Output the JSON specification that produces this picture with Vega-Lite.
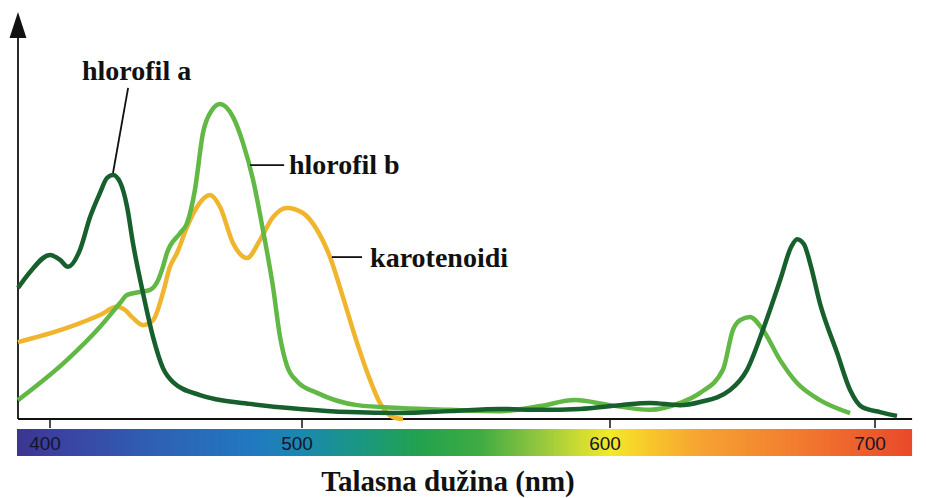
{
  "$schema": "https://vega.github.io/schema/vega-lite/v6.json",
  "width": 926,
  "height": 498,
  "autosize": {"type": "none"},
  "padding": 0,
  "background": "white",
  "config": {"view": {"stroke": null}},
  "datasets": {
    "curves": [
      {"pigment": "karotenoidi", "nm": 387.3, "A": 0.244},
      {"pigment": "karotenoidi", "nm": 406.7, "A": 0.289},
      {"pigment": "karotenoidi", "nm": 419.8, "A": 0.330},
      {"pigment": "karotenoidi", "nm": 426.6, "A": 0.356},
      {"pigment": "karotenoidi", "nm": 429.8, "A": 0.346},
      {"pigment": "karotenoidi", "nm": 432.9, "A": 0.321},
      {"pigment": "karotenoidi", "nm": 436.9, "A": 0.298},
      {"pigment": "karotenoidi", "nm": 440.9, "A": 0.314},
      {"pigment": "karotenoidi", "nm": 444.8, "A": 0.400},
      {"pigment": "karotenoidi", "nm": 447.6, "A": 0.483},
      {"pigment": "karotenoidi", "nm": 450.4, "A": 0.527},
      {"pigment": "karotenoidi", "nm": 454.4, "A": 0.610},
      {"pigment": "karotenoidi", "nm": 458.3, "A": 0.673},
      {"pigment": "karotenoidi", "nm": 463.5, "A": 0.711},
      {"pigment": "karotenoidi", "nm": 467.5, "A": 0.673},
      {"pigment": "karotenoidi", "nm": 472.6, "A": 0.559},
      {"pigment": "karotenoidi", "nm": 478.2, "A": 0.511},
      {"pigment": "karotenoidi", "nm": 483.3, "A": 0.568},
      {"pigment": "karotenoidi", "nm": 488.5, "A": 0.641},
      {"pigment": "karotenoidi", "nm": 494.0, "A": 0.670},
      {"pigment": "karotenoidi", "nm": 500.3, "A": 0.654},
      {"pigment": "karotenoidi", "nm": 504.9, "A": 0.600},
      {"pigment": "karotenoidi", "nm": 509.1, "A": 0.514},
      {"pigment": "karotenoidi", "nm": 513.3, "A": 0.387},
      {"pigment": "karotenoidi", "nm": 517.9, "A": 0.241},
      {"pigment": "karotenoidi", "nm": 522.1, "A": 0.124},
      {"pigment": "karotenoidi", "nm": 525.3, "A": 0.051},
      {"pigment": "karotenoidi", "nm": 529.5, "A": 0.006},
      {"pigment": "karotenoidi", "nm": 532.8, "A": 0.0},

      {"pigment": "hlorofil b", "nm": 387.3, "A": 0.060},
      {"pigment": "hlorofil b", "nm": 406.7, "A": 0.187},
      {"pigment": "hlorofil b", "nm": 419.8, "A": 0.292},
      {"pigment": "hlorofil b", "nm": 427.8, "A": 0.368},
      {"pigment": "hlorofil b", "nm": 430.6, "A": 0.394},
      {"pigment": "hlorofil b", "nm": 435.7, "A": 0.403},
      {"pigment": "hlorofil b", "nm": 439.7, "A": 0.410},
      {"pigment": "hlorofil b", "nm": 442.9, "A": 0.441},
      {"pigment": "hlorofil b", "nm": 444.8, "A": 0.483},
      {"pigment": "hlorofil b", "nm": 446.4, "A": 0.527},
      {"pigment": "hlorofil b", "nm": 451.6, "A": 0.590},
      {"pigment": "hlorofil b", "nm": 454.4, "A": 0.622},
      {"pigment": "hlorofil b", "nm": 457.5, "A": 0.727},
      {"pigment": "hlorofil b", "nm": 460.7, "A": 0.908},
      {"pigment": "hlorofil b", "nm": 464.3, "A": 0.981},
      {"pigment": "hlorofil b", "nm": 467.5, "A": 1.000},
      {"pigment": "hlorofil b", "nm": 472.6, "A": 0.959},
      {"pigment": "hlorofil b", "nm": 476.6, "A": 0.876},
      {"pigment": "hlorofil b", "nm": 480.6, "A": 0.759},
      {"pigment": "hlorofil b", "nm": 484.5, "A": 0.600},
      {"pigment": "hlorofil b", "nm": 488.5, "A": 0.419},
      {"pigment": "hlorofil b", "nm": 491.3, "A": 0.260},
      {"pigment": "hlorofil b", "nm": 494.0, "A": 0.170},
      {"pigment": "hlorofil b", "nm": 498.0, "A": 0.120},
      {"pigment": "hlorofil b", "nm": 504.9, "A": 0.083},
      {"pigment": "hlorofil b", "nm": 517.9, "A": 0.044},
      {"pigment": "hlorofil b", "nm": 531.8, "A": 0.035},
      {"pigment": "hlorofil b", "nm": 548.1, "A": 0.029},
      {"pigment": "hlorofil b", "nm": 564.3, "A": 0.025},
      {"pigment": "hlorofil b", "nm": 577.3, "A": 0.041},
      {"pigment": "hlorofil b", "nm": 588.6, "A": 0.060},
      {"pigment": "hlorofil b", "nm": 600.0, "A": 0.044},
      {"pigment": "hlorofil b", "nm": 615.1, "A": 0.029},
      {"pigment": "hlorofil b", "nm": 626.4, "A": 0.051},
      {"pigment": "hlorofil b", "nm": 634.0, "A": 0.083},
      {"pigment": "hlorofil b", "nm": 642.6, "A": 0.156},
      {"pigment": "hlorofil b", "nm": 646.4, "A": 0.283},
      {"pigment": "hlorofil b", "nm": 649.1, "A": 0.314},
      {"pigment": "hlorofil b", "nm": 652.8, "A": 0.324},
      {"pigment": "hlorofil b", "nm": 657.7, "A": 0.283},
      {"pigment": "hlorofil b", "nm": 664.2, "A": 0.187},
      {"pigment": "hlorofil b", "nm": 670.6, "A": 0.114},
      {"pigment": "hlorofil b", "nm": 679.2, "A": 0.060},
      {"pigment": "hlorofil b", "nm": 690.6, "A": 0.019},

      {"pigment": "hlorofil a", "nm": 387.3, "A": 0.416},
      {"pigment": "hlorofil a", "nm": 392.1, "A": 0.467},
      {"pigment": "hlorofil a", "nm": 400.0, "A": 0.521},
      {"pigment": "hlorofil a", "nm": 404.0, "A": 0.505},
      {"pigment": "hlorofil a", "nm": 407.1, "A": 0.483},
      {"pigment": "hlorofil a", "nm": 411.9, "A": 0.537},
      {"pigment": "hlorofil a", "nm": 415.9, "A": 0.641},
      {"pigment": "hlorofil a", "nm": 419.8, "A": 0.717},
      {"pigment": "hlorofil a", "nm": 422.6, "A": 0.765},
      {"pigment": "hlorofil a", "nm": 425.0, "A": 0.775},
      {"pigment": "hlorofil a", "nm": 427.8, "A": 0.752},
      {"pigment": "hlorofil a", "nm": 430.6, "A": 0.673},
      {"pigment": "hlorofil a", "nm": 432.9, "A": 0.559},
      {"pigment": "hlorofil a", "nm": 436.9, "A": 0.400},
      {"pigment": "hlorofil a", "nm": 440.9, "A": 0.260},
      {"pigment": "hlorofil a", "nm": 444.8, "A": 0.162},
      {"pigment": "hlorofil a", "nm": 448.8, "A": 0.117},
      {"pigment": "hlorofil a", "nm": 459.5, "A": 0.076},
      {"pigment": "hlorofil a", "nm": 479.4, "A": 0.048},
      {"pigment": "hlorofil a", "nm": 499.2, "A": 0.032},
      {"pigment": "hlorofil a", "nm": 515.6, "A": 0.022},
      {"pigment": "hlorofil a", "nm": 531.8, "A": 0.019},
      {"pigment": "hlorofil a", "nm": 548.1, "A": 0.025},
      {"pigment": "hlorofil a", "nm": 564.3, "A": 0.032},
      {"pigment": "hlorofil a", "nm": 577.3, "A": 0.029},
      {"pigment": "hlorofil a", "nm": 590.3, "A": 0.032},
      {"pigment": "hlorofil a", "nm": 603.8, "A": 0.044},
      {"pigment": "hlorofil a", "nm": 615.1, "A": 0.051},
      {"pigment": "hlorofil a", "nm": 626.4, "A": 0.044},
      {"pigment": "hlorofil a", "nm": 634.0, "A": 0.054},
      {"pigment": "hlorofil a", "nm": 645.3, "A": 0.092},
      {"pigment": "hlorofil a", "nm": 651.7, "A": 0.156},
      {"pigment": "hlorofil a", "nm": 657.7, "A": 0.283},
      {"pigment": "hlorofil a", "nm": 664.2, "A": 0.441},
      {"pigment": "hlorofil a", "nm": 668.3, "A": 0.545},
      {"pigment": "hlorofil a", "nm": 670.6, "A": 0.571},
      {"pigment": "hlorofil a", "nm": 673.2, "A": 0.555},
      {"pigment": "hlorofil a", "nm": 675.5, "A": 0.495},
      {"pigment": "hlorofil a", "nm": 679.2, "A": 0.368},
      {"pigment": "hlorofil a", "nm": 685.7, "A": 0.210},
      {"pigment": "hlorofil a", "nm": 690.6, "A": 0.092},
      {"pigment": "hlorofil a", "nm": 695.1, "A": 0.038},
      {"pigment": "hlorofil a", "nm": 701.9, "A": 0.022},
      {"pigment": "hlorofil a", "nm": 708.3, "A": 0.010}
    ],
    "labels": [
      {"label": "hlorofil a", "nm": 412.7, "A": 1.076},
      {"label": "hlorofil b", "nm": 494.8, "A": 0.778},
      {"label": "karotenoidi", "nm": 522.1, "A": 0.483}
    ],
    "leaders": [
      {"nm": 431.0, "A": 1.051, "nm2": 425.0, "A2": 0.781},
      {"nm": 479.4, "A": 0.806, "nm2": 492.9, "A2": 0.806},
      {"nm": 509.7, "A": 0.514, "nm2": 519.5, "A2": 0.514}
    ],
    "tickdata": [
      {"nm": 400, "lab": "400", "A": 0, "A2": -0.0286, "At": -0.0794},
      {"nm": 500, "lab": "500", "A": 0, "A2": -0.0286, "At": -0.0794},
      {"nm": 600, "lab": "600", "A": 0, "A2": -0.0286, "At": -0.0794},
      {"nm": 700, "lab": "700", "A": 0, "A2": -0.0286, "At": -0.0794}
    ],
    "frame": [
      {"nm": 387.3, "nm2": 714.0, "A": 0.0, "A2": 1.2095, "Abar": -0.0317, "Abar2": -0.1175, "nmbar": 386.9, "Atip": 1.2508}
    ],
    "titledata": [
      {"lab": "Talasna dužina (nm)", "nm": 547.4, "A": -0.2286}
    ]
  },
  "encoding": {
    "x": {"field": "nm", "type": "quantitative", "axis": null,
      "scale": {"domain": [380.16, 400, 500, 600, 700, 719.25], "range": [0, 50, 302, 610, 875, 926], "nice": false, "zero": false}},
    "y": {"field": "A", "type": "quantitative", "axis": null,
      "scale": {"domain": [-0.2508, 1.3302], "nice": false, "zero": false}}
  },
  "layer": [
    {
      "data": {"name": "frame"},
      "mark": {"type": "rect", "color": {"gradient": "linear", "x1": 0, "x2": 1, "y1": 0, "y2": 0,
        "stops": [
          {"offset": 0, "color": "#3b3590"},
          {"offset": 0.037, "color": "#3c3f9f"},
          {"offset": 0.149, "color": "#2f5fb3"},
          {"offset": 0.26, "color": "#2178c0"},
          {"offset": 0.318, "color": "#1b88b0"},
          {"offset": 0.383, "color": "#1a9782"},
          {"offset": 0.45, "color": "#22a24e"},
          {"offset": 0.517, "color": "#3fab42"},
          {"offset": 0.573, "color": "#86c240"},
          {"offset": 0.629, "color": "#cddc31"},
          {"offset": 0.663, "color": "#f4e82a"},
          {"offset": 0.707, "color": "#f8c72a"},
          {"offset": 0.763, "color": "#f6a332"},
          {"offset": 0.875, "color": "#f27a2f"},
          {"offset": 1, "color": "#e9492a"}
        ]}},
      "encoding": {
        "x": {"field": "nmbar", "type": "quantitative"},
        "x2": {"field": "nm2"},
        "y": {"field": "Abar", "type": "quantitative"},
        "y2": {"field": "Abar2"}
      }
    },
    {
      "data": {"name": "frame"},
      "mark": {"type": "rule", "color": "#111111", "strokeWidth": 1.8},
      "encoding": {
        "x2": {"field": "nm2"},
        "y": {"datum": 0}
      }
    },
    {
      "data": {"name": "frame"},
      "mark": {"type": "rule", "color": "#111111", "strokeWidth": 1.8},
      "encoding": {
        "y2": {"field": "A2"}
      }
    },
    {
      "data": {"name": "frame"},
      "mark": {"type": "point", "shape": "M0,-1L0.65,1L-0.65,1Z", "filled": true, "color": "#111111", "size": 676, "opacity": 1},
      "encoding": {
        "y": {"field": "Atip", "type": "quantitative"}
      }
    },
    {
      "data": {"name": "tickdata"},
      "mark": {"type": "rule", "color": "#111111", "strokeWidth": 1.5},
      "encoding": {
        "y2": {"field": "A2"}
      }
    },
    {
      "data": {"name": "tickdata"},
      "mark": {"type": "text", "font": "Liberation Sans", "fontSize": 19, "color": "#15152a", "dx": -5, "baseline": "middle", "align": "center"},
      "encoding": {
        "y": {"field": "At", "type": "quantitative"},
        "text": {"field": "lab", "type": "nominal"}
      }
    },
    {
      "data": {"name": "curves"},
      "transform": [{"filter": "datum.pigment === 'karotenoidi'"}],
      "mark": {"type": "line", "color": "#f0b52e", "strokeWidth": 4.5, "interpolate": "monotone"},
      "encoding": {}
    },
    {
      "data": {"name": "curves"},
      "transform": [{"filter": "datum.pigment === 'hlorofil b'"}],
      "mark": {"type": "line", "color": "#62b845", "strokeWidth": 4.5, "interpolate": "monotone"},
      "encoding": {}
    },
    {
      "data": {"name": "curves"},
      "transform": [{"filter": "datum.pigment === 'hlorofil a'"}],
      "mark": {"type": "line", "color": "#17602e", "strokeWidth": 4.5, "interpolate": "monotone"},
      "encoding": {}
    },
    {
      "data": {"name": "leaders"},
      "mark": {"type": "rule", "color": "#111111", "strokeWidth": 1.8},
      "encoding": {
        "x2": {"field": "nm2"},
        "y2": {"field": "A2"}
      }
    },
    {
      "data": {"name": "labels"},
      "mark": {"type": "text", "font": "Liberation Serif", "fontWeight": "bold", "fontSize": 28, "color": "#111111", "align": "left", "baseline": "alphabetic"},
      "encoding": {
        "text": {"field": "label"}
      }
    },
    {
      "data": {"name": "titledata"},
      "mark": {"type": "text", "font": "Liberation Serif", "fontWeight": "bold", "fontSize": 29, "color": "#111111", "align": "center", "baseline": "alphabetic"},
      "encoding": {
        "text": {"field": "lab"}
      }
    }
  ]
}
